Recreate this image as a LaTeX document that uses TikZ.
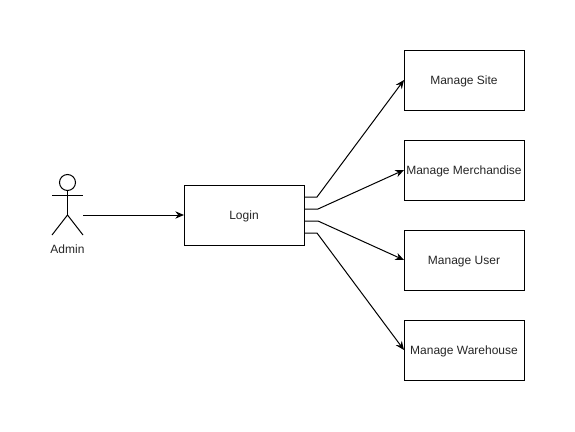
\documentclass[tikz,border=0pt]{standalone}
\usepackage{fontspec}
\setmainfont{Liberation Sans}
\usetikzlibrary{arrows.meta,positioning}
\tikzset{
  task/.style={rectangle, draw=black, line width=0.75pt, align=center, minimum height=45pt, minimum width=90pt, inner sep=0pt, outer sep=0pt, text height=8.4pt, text depth=1.6pt, text=black!85, font=\fontsize{9}{11}\selectfont},
  stick/.style={draw=black, line width=0.75pt},
  arrow/.style={-{Stealth[length=6.5pt,width=5.5pt]}, line width=0.75pt, black}
}

\begin{document}
\begin{tikzpicture}[x=0.75pt, y=-0.75pt, node distance=22.5pt]
  \useasboundingbox (0,0) rectangle (575,432);
  \fill[white] (0,0) rectangle (575,432);
  \node[task] (login) at (244,215) {Login};
  \node[task] (site) at (464,80) {Manage Site};
  \node[task, below=of site] (merch) {Manage Merchandise};
  \node[task, below=of merch] (user) {Manage User};
  \node[task, below=of user] (ware) {Manage Warehouse};
  % actor
  \node[circle, stick, minimum size=12pt, inner sep=0pt, outer sep=0pt] (head) at (67.5,182.5) {};
  \coordinate (hip) at (67.5,215);
  \coordinate (hand) at (83,215);
  \draw[stick] (head) -- (hip);
  \draw[stick] (52,195) -- (83,195);
  \draw[stick] (52,235) -- (hip) -- (83,235);
  \node[font=\fontsize{9}{11}\selectfont, text=black!85] (admin) at (67.5,249) {Admin};
  \draw[arrow] (hand) -- (login.west);
  % exits of login
  \coordinate (a1) at (304,197);
  \coordinate (a2) at (304,209);
  \coordinate (a3) at (304,221);
  \coordinate (a4) at (304,233);
  \draw[arrow] (a1) -- (317,197) -- (site.west);
  \draw[arrow] (a2) -- (318,209) -- (merch.west);
  \draw[arrow] (a3) -- (318,221) -- (user.west);
  \draw[arrow] (a4) -- (317,233) -- (ware.west);
\end{tikzpicture}
\end{document}
